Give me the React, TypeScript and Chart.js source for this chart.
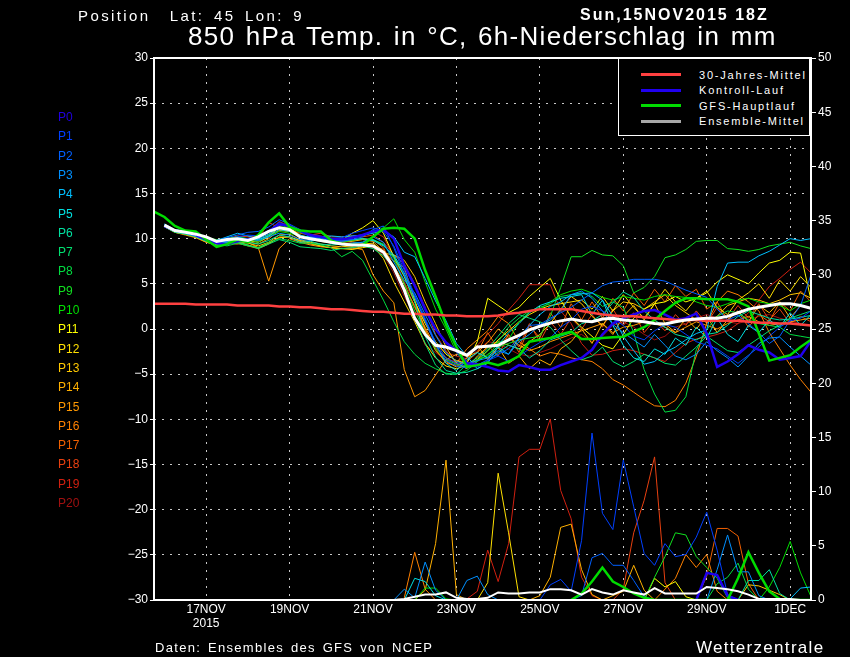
import { useEffect, useRef } from 'react';
import { Chart, registerables } from 'chart.js';

Chart.register(...registerables);

// forecast steps are 6 hours apart, step 0 is 15NOV 18Z
const steps = Array.from({ length: 64 }, (_, i) => i);
const dayTicks = [5, 13, 21, 29, 37, 45, 53, 61];
const dayLabels = ['17NOV', '19NOV', '21NOV', '23NOV', '25NOV', '27NOV', '29NOV', '1DEC'];
const yearLabel = '2015';

const memberNames = ['P0', 'P1', 'P2', 'P3', 'P4', 'P5', 'P6', 'P7', 'P8', 'P9', 'P10', 'P11', 'P12', 'P13', 'P14', 'P15', 'P16', 'P17', 'P18', 'P19', 'P20'];
const memberColors = ['#2000e0', '#0040ff', '#0060ff', '#0090ff', '#00c0ff', '#00e0e0', '#00e0a0', '#00e070', '#00dc40', '#10e020', '#00e000', '#ffff00', '#ffe000', '#ffc800', '#ffb000', '#ff9800', '#ff8000', '#f06000', '#e84010', '#d02010', '#a01010'];

const climate = [2.8, 2.8, 2.8, 2.8, 2.7, 2.7, 2.7, 2.7, 2.6, 2.6, 2.6, 2.6, 2.5, 2.5, 2.4, 2.4, 2.3, 2.2, 2.2, 2.1, 2.0, 1.9, 1.9, 1.8, 1.7, 1.7, 1.6, 1.6, 1.5, 1.5, 1.4, 1.4, 1.4, 1.5, 1.7, 1.8, 2.0, 2.2, 2.2, 2.2, 2.2, 2.0, 1.8, 1.6, 1.5, 1.4, 1.4, 1.3, 1.2, 1.1, 1.0, 1.0, 1.0, 0.9, 0.9, 0.9, 0.9, 0.8, 0.7, 0.7, 0.6, 0.6, 0.5, 0.4];
const mainRun = [13.0, 12.4, 11.4, 10.9, 10.8, 9.9, 9.1, 9.4, 9.9, 9.6, 10.4, 11.8, 12.8, 11.3, 10.9, 10.8, 10.8, 9.8, 9.4, 9.3, 9.3, 10.2, 11.1, 11.2, 11.1, 10.0, 6.5, 3.6, 0.5, -2.0, -4.2, -4.0, -3.7, -4.0, -3.6, -3.0, -1.4, -1.2, -1.0, -0.6, -0.3, -1.1, -1.1, -1.0, -0.9, -0.85, -0.3, 0.2, 1.0, 2.0, 2.9, 3.4, 3.4, 3.3, 3.3, 3.3, 3.0, 2.5, -0.5, -3.5, -3.2, -2.9, -2.0, -1.2];
const ensembleMean = [null, 11.5, 10.9, 10.7, 10.5, 10.2, 9.7, 9.9, 10.0, 9.8, 10.2, 10.8, 11.2, 11.0, 10.2, 10.0, 9.8, 9.6, 9.4, 9.3, 9.3, 9.2, 8.5, 6.8, 4.3, 1.2, -0.6, -1.8, -2.0, -2.4, -2.9, -2.0, -1.9, -1.8, -1.2, -0.7, -0.1, 0.3, 0.65, 0.9, 1.1, 0.9, 0.8, 1.1, 1.2, 1.0, 0.9, 0.8, 0.6, 0.55, 0.8, 1.0, 1.1, 1.2, 1.2, 1.4, 1.8, 2.2, 2.4, 2.6, 2.8, 2.8, 2.6, 2.3];

// 850 hPa temperature of each member
const tempP0 = [null, 11.4, 10.9, 10.7, 10.4, 9.9, 9.5, 9.4, 9.7, 9.9, 10.2, 10.8, 11.6, 11.4, 10.9, 10.4, 10.2, 10.0, 9.9, 10.1, 10.4, 10.8, 11.0, 10.0, 7.0, 4.8, 2.2, 0.0, -1.5, -2.4, -3.8, -3.9, -4.2, -4.6, -4.7, -4.0, -4.2, -4.5, -4.5, -4.0, -3.6, -3.2, -2.3, -0.6, 0.6, 1.2, 1.6, 2.0, 2.1, 1.6, 1.0, 1.2, 1.7, -0.5, -4.2, -3.6, -2.8, -1.8, -2.3, -2.6, -3.4, -3.2, -3.0, -1.3];
const tempP1 = [null, 11.6, 11.0, 10.7, 10.5, 10.0, 9.7, 9.8, 10.2, 10.4, 10.3, 10.9, 11.8, 11.4, 10.8, 10.2, 10.1, 10.0, 10.1, 10.6, 10.9, 11.2, 10.8, 9.2, 6.5, 3.8, 1.2, -1.5, -3.2, -3.8, -4.1, -4.2, -3.5, -3.0, -3.6, -3.0, -2.2, -1.5, -1.0, 0.2, 1.0, 2.2, 2.5, 2.0, 1.2, 0.4, -0.8, -1.2, -0.2, 0.5, 0.2, -0.6, -1.4, -1.8, -2.2, -3.0, -3.8, -2.9, -2.0, -0.8, 0.2, 0.9, 1.2, 2.0];
const tempP2 = [null, 11.4, 10.9, 10.6, 10.4, 9.9, 9.8, 10.1, 10.4, 10.7, 10.8, 11.3, 12.1, 11.6, 11.0, 10.4, 10.1, 9.9, 9.7, 9.9, 10.2, 11.0, 11.4, 9.0, 6.0, 3.6, 0.9, -1.8, -3.5, -4.1, -4.3, -4.0, -3.4, -2.8, -2.2, -1.0, 0.4, 0.5, 1.2, 1.8, 2.4, 3.2, 4.0, 4.8, 5.2, 5.3, 5.5, 5.5, 5.5, 5.3, 4.8, 4.3, 3.9, 3.5, 2.2, 1.0, 1.5, 0.6, -0.4, -1.6, -0.8, 1.0, 2.6, 6.0];
const tempP3 = [null, 11.5, 10.9, 10.7, 10.3, 9.8, 9.6, 9.7, 10.1, 10.0, 9.8, 10.2, 10.6, 10.4, 9.9, 9.8, 9.8, 9.5, 9.4, 9.5, 9.6, 10.2, 9.6, 7.4, 5.4, 4.0, 1.6, -0.7, -2.6, -3.6, -3.9, -3.5, -3.2, -2.4, -2.8, -1.4, -0.6, 0.4, 1.0, 2.0, 3.8, 4.2, 3.4, 2.0, 0.5, -0.4, -1.2, -2.0, -0.6, -1.8, -3.0, -3.4, -2.8, -1.4, -2.4, -3.2, -4.2, -3.0, -1.6, -1.0, -0.9, -2.0, -3.0, -4.0];
const tempP4 = [null, 11.6, 11.0, 10.8, 10.5, 10.1, 9.8, 10.2, 10.6, 10.3, 10.0, 10.5, 11.2, 10.9, 10.4, 10.1, 10.2, 10.3, 10.2, 10.3, 10.4, 10.6, 10.9, 10.2, 8.5, 8.0, 5.6, 3.1, 0.9, -1.6, -3.0, -4.4, -3.8, -2.0, -2.8, -1.0, 0.4, 1.6, 2.5, 3.0, 3.8, 3.9, 4.0, 3.2, 1.4, -0.8, -2.4, -3.9, -3.6, -2.6, -2.0, -1.2, -0.5, -0.1, 4.7, 7.3, 7.4, 7.4, 8.1, 8.6, 9.3, 10.0, 9.8, 10.0];
const tempP5 = [null, 11.4, 10.8, 10.6, 10.3, 9.9, 9.5, 9.6, 9.8, 10.0, 9.9, 10.3, 11.0, 10.8, 10.2, 10.2, 10.0, 9.8, 9.8, 9.9, 10.0, 9.8, 9.2, 8.2, 6.2, 3.5, 1.0, -1.6, -3.8, -4.6, -3.4, -2.6, -3.2, -1.8, -0.4, 0.6, 1.8, 2.6, 3.0, 3.4, 3.6, 3.8, 1.6, 3.2, 0.4, -1.8, -3.2, -3.6, -2.2, -2.8, -1.0, -1.8, 0.2, -1.0, 1.2, -0.6, -1.4, 0.4, -0.4, 1.0, 0.2, 1.8, 0.4, 1.6];
const tempP6 = [null, 11.5, 10.9, 10.7, 10.4, 9.9, 9.5, 9.5, 9.7, 9.6, 9.4, 9.8, 10.4, 10.2, 9.6, 9.7, 9.4, 9.3, 9.4, 9.5, 9.6, 9.9, 9.3, 8.0, 5.9, 3.0, -0.8, -3.1, -4.6, -4.9, -4.8, -4.4, -3.6, -2.6, -1.8, -2.2, -3.2, -2.4, -1.2, -0.8, -0.4, 0.6, 0.9, 1.6, 2.9, 4.1, 3.5, 2.0, 1.0, 0.2, -0.6, -0.9, -1.2, -0.6, -0.4, 0.4, 1.4, 2.0, 1.6, 1.2, 1.0, 1.1, 1.3, 1.5];
const tempP7 = [null, 11.3, 10.7, 10.5, 10.2, 9.7, 9.2, 9.4, 9.6, 9.3, 8.9, 9.4, 9.9, 9.6, 9.1, 9.0, 8.9, 8.7, 8.9, 9.0, 9.2, 8.9, 8.1, 6.8, 4.2, 1.2, -1.6, -4.0, -5.0, -5.0, -3.9, -3.2, -2.2, -0.8, 0.6, 1.6, 1.2, 0.8, 0.2, -1.2, -2.4, -3.4, -3.0, -2.0, -3.6, -4.2, -3.6, -2.8, -3.2, -3.8, -4.0, -3.0, -2.0, -0.8, -1.6, -2.4, -2.6, -1.8, -1.0, -0.2, 0.4, 1.2, 1.6, 2.0];
const tempP8 = [null, 11.4, 10.8, 10.5, 10.3, 9.8, 9.4, 9.2, 9.5, 9.2, 9.0, 9.6, 10.0, 9.8, 9.5, 9.5, 9.3, 9.0, 8.0, 8.6, 7.6, 5.4, 3.2, 0.8, -1.4, -2.8, -3.8, -4.4, -4.9, -5.0, -4.6, -3.6, -2.4, -1.4, 0.2, 1.2, 2.0, 2.4, 2.8, 3.6, 3.8, 4.0, 3.6, 2.5, 3.0, 2.4, -0.4, -4.5, -7.2, -9.2, -9.0, -7.5, -2.3, -0.1, 1.4, 2.0, 1.8, 1.0, 0.6, 0.4, 0.2, -0.6, -0.8, -1.0];
const tempP9 = [null, 11.5, 10.9, 10.7, 10.4, 9.9, 9.6, 9.8, 10.0, 9.9, 9.6, 10.4, 11.5, 11.2, 10.7, 10.4, 10.2, 9.9, 9.6, 9.8, 10.0, 9.9, 9.4, 7.8, 5.0, 2.0, -0.4, -2.2, -3.4, -3.9, -4.2, -3.6, -2.8, -2.0, -1.6, -1.2, -1.0, -0.8, 1.4, 4.6, 8.0, 8.0, 8.7, 8.2, 8.1, 7.0, 4.0, 4.6, 5.8, 7.9, 8.2, 8.8, 9.7, 9.8, 9.8, 8.9, 8.8, 8.6, 8.8, 9.2, 9.4, 9.6, 9.2, 8.9];
const tempP10 = [null, 11.6, 11.0, 10.8, 10.5, 10.1, 9.9, 10.0, 10.2, 10.0, 9.8, 10.3, 10.8, 10.6, 10.3, 10.2, 10.1, 10.0, 10.0, 10.1, 10.3, 10.7, 11.2, 12.2, 9.9, 8.5, 5.2, 2.2, 0.0, -2.6, -4.0, -3.4, -3.0, -1.5, -1.2, 0.8, 1.9, 2.2, 3.0, 3.8, 4.2, 4.4, 4.0, 3.5, 3.2, 3.6, 3.4, 3.2, 3.6, 3.8, 3.6, 3.5, 3.0, 2.6, 2.4, 2.8, 3.2, 3.4, 3.0, 2.8, 2.6, 2.0, 2.8, 3.2];
const tempP11 = [null, 11.4, 10.9, 10.6, 10.3, 9.9, 9.7, 9.7, 10.0, 9.8, 9.6, 10.2, 11.3, 11.2, 10.4, 10.0, 9.8, 9.6, 9.8, 10.6, 11.2, 12.0, 10.6, 8.0, 5.8, 3.0, 0.6, -1.4, -2.8, -3.5, -3.8, -1.4, 3.4, 2.6, 1.8, 2.4, 3.6, 4.6, 5.6, 3.2, 1.3, 0.2, -0.8, -1.8, -2.2, -0.6, 1.2, 2.2, 2.8, 3.0, 3.6, 3.0, 3.4, 4.0, 5.2, 6.0, 5.5, 5.0, 6.2, 7.3, 7.6, 8.5, 8.4, 3.2];
const tempP12 = [null, 11.3, 10.7, 10.5, 10.2, 9.7, 9.3, 9.4, 9.6, 9.3, 9.0, 9.5, 10.1, 10.2, 9.8, 9.5, 9.2, 9.0, 8.9, 8.8, 9.0, 9.2, 7.8, 5.2, 3.0, 0.8, -1.6, -3.2, -4.1, -4.4, -4.0, -3.4, -2.4, -1.2, -0.2, 0.8, 1.6, 2.2, 2.6, 2.8, 3.0, 3.2, 2.2, 3.6, 2.0, 3.8, 2.4, 1.2, 2.8, 4.4, 3.0, 2.0, 3.4, 4.2, 2.4, 1.6, 3.2, 4.0, 5.0, 3.4, 5.4, 4.2, 5.8, 4.6];
const tempP13 = [null, 11.4, 10.8, 10.5, 10.2, 9.7, 9.4, 9.5, 9.7, 9.5, 9.2, 9.6, 10.4, 10.5, 9.9, 9.6, 9.4, 9.2, 9.1, 9.2, 9.4, 9.5, 8.4, 8.2, 7.6, 5.8, 3.0, 0.6, -2.0, -3.8, -4.4, -3.0, -2.0, -1.4, -1.8, -2.2, -1.4, -0.6, 0.6, 2.2, 3.6, 2.8, 1.4, 0.4, 2.0, 3.0, 2.8, 2.2, 3.0, 3.8, 2.6, 1.8, 1.0, 0.8, 1.4, 2.6, 3.0, 3.4, 3.2, 2.8, 3.2, 3.8, 4.0, 3.4];
const tempP14 = [null, 11.5, 10.9, 10.6, 10.3, 9.8, 9.5, 9.6, 9.9, 9.7, 9.4, 10.0, 10.9, 10.8, 10.2, 9.9, 9.7, 9.5, 9.6, 9.7, 9.9, 9.7, 8.6, 7.5, 6.8, 3.2, 0.0, -2.4, -3.6, -4.2, -3.2, -1.8, -3.4, -2.0, -3.8, -3.0, -4.4, -3.4, -4.0, -2.2, -1.4, 0.0, -1.6, 0.6, -0.6, 1.4, 2.6, 1.0, 2.8, 0.6, -0.4, 1.2, 0.0, 1.4, -0.4, 1.0, 2.0, 0.8, 2.6, 1.8, 3.0, 1.2, 2.6, 2.2];
const tempP15 = [null, 11.5, 10.9, 10.5, 10.2, 9.6, 9.4, 9.5, 9.4, 9.6, 9.0, 5.3, 8.9, 10.0, 9.6, 9.3, 9.1, 9.0, 8.9, 9.0, 8.8, 6.0, 4.2, 2.9, -4.5, -7.5, -6.8, -5.1, -3.4, -2.8, -3.0, -2.6, -1.5, 0.0, -0.9, -1.8, -2.4, -2.0, -1.4, -1.0, -0.6, -0.2, 0.2, 0.6, -0.4, 0.2, 0.4, 0.8, 0.6, 0.2, -0.4, 0.2, 0.8, 0.4, 0.0, 0.6, 1.0, 1.4, 0.8, 0.4, 0.6, 0.8, 1.0, 1.2];
const tempP16 = [null, 11.4, 10.7, 10.4, 10.1, 9.6, 9.3, 9.4, 9.5, 9.2, 8.9, 9.4, 10.2, 10.2, 9.7, 9.4, 9.2, 9.0, 8.9, 8.9, 9.1, 9.3, 8.8, 7.0, 5.0, 2.4, 0.2, -2.0, -3.2, -3.8, -2.2, -1.2, -0.2, 1.4, 0.6, -1.4, -2.2, -3.0, -2.6, -2.8, -3.2, -3.4, -3.6, -4.4, -5.6, -6.2, -7.0, -7.8, -8.5, -8.6, -7.9, -6.0, -3.0, 0.6, 3.0, 4.2, 3.8, 3.0, 2.0, -0.4, -2.2, -4.0, -5.6, -7.0];
const tempP17 = [null, 11.4, 10.8, 10.5, 10.2, 9.7, 9.5, 9.7, 9.9, 9.9, 9.8, 10.4, 11.2, 10.8, 10.2, 10.0, 9.9, 9.7, 9.7, 9.8, 10.0, 9.9, 9.0, 6.8, 4.6, 2.6, -0.2, -2.2, -3.8, -4.0, -3.6, -2.6, -0.4, -2.2, -0.6, -2.6, 0.4, -1.0, 1.8, 0.2, 2.8, 1.0, 3.0, 1.2, 3.4, 2.0, 4.0, 2.6, 4.4, 3.0, 4.8, 3.6, 4.4, 2.2, 3.0, 1.0, 2.0, 0.2, 1.6, 0.8, 3.0, 2.0, 4.2, 3.0];
const tempP18 = [null, 11.6, 11.0, 10.7, 10.4, 10.0, 9.7, 9.9, 10.3, 10.2, 10.0, 11.8, 11.2, 11.0, 10.6, 10.4, 10.6, 10.2, 10.2, 10.3, 10.2, 10.4, 9.6, 8.2, 7.2, 5.0, 2.4, -0.6, -2.4, -3.8, -4.2, -3.4, -1.8, -3.0, -0.6, -2.0, 0.6, -1.4, 0.8, -0.6, 1.2, 0.0, 1.6, 0.2, 2.2, 0.4, 1.8, -0.4, 1.0, -0.2, 1.6, 0.4, 2.0, 0.6, 2.4, 1.0, 2.6, 1.2, 2.8, 1.0, 2.2, 0.6, 1.4, 0.8];
const tempP19 = [null, 11.5, 10.9, 10.6, 10.3, 9.8, 9.6, 9.8, 10.2, 10.3, 10.2, 10.8, 11.9, 11.4, 10.9, 10.5, 10.3, 10.0, 10.0, 10.1, 10.4, 10.8, 10.2, 8.0, 5.2, 3.0, 0.8, -1.6, -2.6, -3.0, -3.3, -1.8, -0.6, 0.6, 2.1, 3.4, 4.9, 4.9, 4.9, 2.0, 0.6, -1.6, -2.9, -2.8, -2.4, -2.2, -2.4, -2.8, -3.2, -3.6, -2.6, -1.6, -1.1, -0.9, -0.6, -0.2, 0.6, 1.8, 3.2, 4.7, 5.6, 6.6, 7.4, 6.2];
const tempP20 = [null, 11.4, 10.8, 10.6, 10.3, 9.8, 9.5, 9.6, 9.9, 9.8, 9.7, 10.2, 11.0, 10.8, 10.4, 10.1, 9.8, 9.5, 9.4, 9.6, 9.5, 9.0, 8.2, 6.2, 3.6, 1.4, -1.8, -2.6, -3.4, -3.6, -3.2, -2.4, -1.4, -1.6, -2.2, -2.8, -3.0, -2.6, -2.2, -1.6, -1.0, -0.6, -1.4, -0.8, 0.4, 0.8, 0.2, -0.6, -1.2, -0.8, 0.2, 0.6, 1.2, 1.6, 1.2, 0.8, 0.6, 1.0, 1.4, 1.6, 1.2, 0.9, 0.6, 0.4];
const memberTemps = [tempP0, tempP1, tempP2, tempP3, tempP4, tempP5, tempP6, tempP7, tempP8, tempP9, tempP10, tempP11, tempP12, tempP13, tempP14, tempP15, tempP16, tempP17, tempP18, tempP19, tempP20];

// 6h precipitation, [step, mm], dry steps left out
const rainP0: number[][] = [[52, 0], [53, 2.5], [54, 2.3], [55, 0.4], [56, 0]];
const rainP1: number[][] = [[37, 0], [38, 1.4], [39, 1.9], [40, 0.8], [41, 5.5], [42, 15.4], [43, 8.0], [44, 6.5], [45, 12.9], [46, 8.6], [47, 4.3], [48, 3.2], [49, 5.2], [50, 4.0], [51, 4.2], [52, 5.8], [53, 8.1], [54, 4.6], [55, 0.5], [56, 0]];
const rainP2: number[][] = [[40, 0], [41, 0.4], [42, 3.9], [43, 4.3], [44, 3.2], [45, 3.2], [46, 1.8], [47, 0.3], [48, 0]];
const rainP3: number[][] = [[23, 0], [24, 1.0], [25, 0.2], [26, 3.5], [27, 0.9], [28, 0], [29, 0], [30, 1.8], [31, 2.2], [32, 0.5], [33, 0], [53, 0], [54, 2.8], [55, 6.0], [56, 2.6], [57, 2.6], [58, 0.4], [59, 0]];
const rainP4: number[][] = [[60, 0], [61, 0.1], [62, 1.1], [63, 1.2]];
const rainP5: number[][] = [[24, 0], [25, 2.0], [26, 1.7], [27, 0.4], [28, 0]];
const rainP6: number[][] = [[56, 0], [57, 1.8], [58, 1.8], [59, 2.8], [60, 0.6], [61, 0]];
const rainP8: number[][] = [[53, 0], [54, 1.5], [55, 2.1], [56, 3.4], [57, 1.0], [58, 0]];
const rainP9: number[][] = [[47, 0], [48, 2.1], [49, 4.0], [50, 6.2], [51, 6.0], [52, 4.0], [53, 3.0], [54, 2.0], [55, 0.2], [56, 0]];
const rainP10: number[][] = [[25, 0], [26, 1.1], [27, 1.1], [28, 0.1], [29, 0], [58, 0], [59, 1.2], [60, 3.0], [61, 5.4], [62, 2.5], [63, 0.3]];
const rainP11: number[][] = [[47, 0], [48, 2.0], [49, 1.2], [50, 1.7], [51, 0.3], [52, 0]];
const rainP12: number[][] = [[31, 0], [32, 1.6], [33, 11.7], [34, 6.2], [35, 0.3], [36, 0]];
const rainP13: number[][] = [[56, 0], [57, 1.4], [58, 1.3], [59, 0.9], [60, 0.5], [61, 0]];
const rainP14: number[][] = [[25, 0], [26, 0.9], [27, 5.2], [28, 12.9], [29, 0.5], [30, 0], [36, 0], [37, 0.4], [38, 2.1], [39, 6.7], [40, 7.0], [41, 2.8], [42, 0.5], [43, 0], [44, 0.4], [45, 0.8], [46, 3.2], [47, 0.9], [48, 0]];
const rainP16: number[][] = [[24, 0.2], [25, 4.4], [26, 1.0], [27, 0], [48, 0], [49, 1.0], [50, 2.0], [51, 4.2], [52, 3.0], [53, 4.2], [54, 0.8], [55, 0]];
const rainP17: number[][] = [[52, 0], [53, 2.2], [54, 6.6], [55, 6.6], [56, 5.9], [57, 1.5], [58, 0]];
const rainP18: number[][] = [[44, 0], [45, 1.0], [46, 6.2], [47, 9.2], [48, 13.2], [49, 1.6], [50, 0]];
const rainP19: number[][] = [[29, 0], [30, 0.1], [31, 0.8], [32, 4.6], [33, 1.7], [34, 5.2], [35, 13.2], [36, 13.9], [37, 13.9], [38, 16.7], [39, 10.1], [40, 7.5], [41, 2.1], [42, 0.4], [43, 0]];
const rainMain: number[][] = [[40, 0], [41, 0.6], [42, 1.7], [43, 3.0], [44, 1.7], [45, 1.2], [46, 0.6], [47, 0.2], [48, 0], [55, 0], [56, 2.0], [57, 4.4], [58, 2.5], [59, 0.8], [60, 0.1], [61, 0], [63, 0]];
const rainMean: number[][] = [[23, 0], [24, 0.1], [25, 0.3], [26, 0.5], [27, 0.5], [28, 0.7], [29, 0.2], [30, 0.1], [31, 0.1], [32, 0.2], [33, 0.7], [34, 0.6], [35, 0.6], [36, 0.7], [37, 0.7], [38, 1.0], [39, 1.0], [40, 0.9], [41, 0.5], [42, 1.0], [43, 0.7], [44, 0.5], [45, 0.9], [46, 0.7], [47, 0.5], [48, 1.1], [49, 0.6], [50, 0.6], [51, 0.6], [52, 0.6], [53, 1.2], [54, 1.1], [55, 1.0], [56, 0.8], [57, 0.5], [58, 0.1], [59, 0.1], [60, 0.1], [61, 0.1], [62, 0], [63, 0]];
const memberRain: [number, number[][]][] = [[1, rainP1], [2, rainP2], [3, rainP3], [4, rainP4], [5, rainP5], [6, rainP6], [8, rainP8], [9, rainP9], [10, rainP10], [11, rainP11], [12, rainP12], [13, rainP13], [14, rainP14], [16, rainP16], [17, rainP17], [18, rainP18], [19, rainP19]];

const legendItems = [
  { label: '30-Jahres-Mittel', color: '#ff4040' },
  { label: 'Kontroll-Lauf', color: '#2000f0' },
  { label: 'GFS-Hauptlauf', color: '#00dc00' },
  { label: 'Ensemble-Mittel', color: '#a8a8a8' },
];

const toPoints = (rows: number[][]) => rows.map(([x, y]) => ({ x, y }));

const frame = {
  id: 'frame',
  afterDatasetsDraw(chart: Chart) {
    const { ctx, chartArea: a } = chart;
    ctx.save();
    ctx.strokeStyle = '#fff';
    ctx.lineWidth = 2;
    ctx.strokeRect(a.left, a.top, a.right - a.left, a.bottom - a.top);
    ctx.restore();
  },
};

const textStyle = (left: number, top: number, size: number, color = '#fff'): React.CSSProperties => ({
  position: 'absolute',
  left,
  top,
  fontSize: size,
  color,
  lineHeight: '1',
  whiteSpace: 'nowrap',
  transform: 'translateY(-50%)',
  fontFamily: '"Liberation Sans", sans-serif',
});

const App = () => {
  const canvasRef = useRef<HTMLCanvasElement | null>(null);

  useEffect(() => {
    document.body.style.margin = '0';
    document.body.style.background = '#000';
    if (!canvasRef.current) return;

    const thin = (label: string, data: any, color: string, yAxisID = 'y') => ({
      label, data, yAxisID, borderColor: color, borderWidth: 1, pointRadius: 0, tension: 0, order: 6,
    });
    const thick = (label: string, data: any, color: string, order: number, yAxisID = 'y', width = 2.5) => ({
      label, data, yAxisID, borderColor: color, borderWidth: width, pointRadius: 0, tension: 0, order,
    });

    const datasets: any[] = [];
    memberTemps.forEach((temps, m) => {
      if (m > 0) datasets.push(thin(memberNames[m], temps, memberColors[m]));
    });
    memberRain.forEach(([m, rows]) => {
      datasets.push(thin(memberNames[m] + ' rain', toPoints(rows), memberColors[m], 'y1'));
    });
    datasets.push(thick('Kontroll-Lauf', tempP0, '#2000f0', 5));
    datasets.push(thick('Kontroll-Lauf rain', toPoints(rainP0), '#2000f0', 5, 'y1'));
    datasets.push(thick('GFS-Hauptlauf', mainRun, '#00dc00', 4));
    datasets.push(thick('GFS-Hauptlauf rain', toPoints(rainMain), '#00dc00', 4, 'y1'));
    datasets.push(thick('30-Jahres-Mittel', climate, '#ff4040', 3));
    datasets.push(thick('Ensemble-Mittel', ensembleMean, '#ffffff', 2, 'y', 3));
    datasets.push(thick('Ensemble-Mittel rain', toPoints(rainMean), '#ffffff', 2, 'y1', 2));

    const tickFont = { family: '"Liberation Sans", sans-serif', size: 12 };

    const chart = new Chart(canvasRef.current, {
      type: 'line',
      data: { labels: steps, datasets },
      plugins: [frame],
      options: {
        animation: false,
        responsive: false,
        spanGaps: false,
        layout: { padding: { top: 58, left: 0, right: 0, bottom: 0 } },
        plugins: { legend: { display: false }, tooltip: { enabled: false } },
        scales: {
          x: {
            type: 'linear',
            min: 0,
            max: 63,
            afterBuildTicks: (axis: any) => {
              axis.ticks = dayTicks.map((value) => ({ value }));
            },
            afterFit: (axis: any) => {
              axis.height = 57;
            },
            grid: { color: '#c8c8c8', drawTicks: false },
            border: { display: false, dash: [2, 6] },
            ticks: {
              color: '#fff',
              font: tickFont,
              autoSkip: false,
              maxRotation: 0,
              padding: 2,
              callback: (value: any) => {
                const i = dayTicks.indexOf(value);
                return i === 0 ? [dayLabels[i], yearLabel] : dayLabels[i];
              },
            },
          },
          y: {
            min: -30,
            max: 30,
            afterFit: (axis: any) => {
              axis.width = 154;
            },
            grid: { color: '#c8c8c8', tickLength: 4, tickColor: '#fff', tickBorderDash: [] } as any,
            border: { display: false, dash: [2, 6] },
            ticks: {
              color: '#fff',
              font: tickFont,
              stepSize: 5,
              padding: 2,
              callback: (value: any) => String(value).replace('-', '\u2212'),
            },
          },
          y1: {
            position: 'right',
            min: 0,
            max: 50,
            afterFit: (axis: any) => {
              axis.width = 39;
            },
            grid: { drawOnChartArea: false, tickLength: 5, tickColor: '#fff' },
            border: { display: false },
            ticks: { color: '#fff', font: tickFont, stepSize: 5, padding: 2 },
          },
        },
      },
    });

    return () => chart.destroy();
  }, []);

  return (
    <div style={{ position: 'relative', width: 850, height: 657, background: '#000', overflow: 'hidden' }}>
      <canvas ref={canvasRef} width={850} height={657} style={{ display: 'block' }} />
      <div style={{ ...textStyle(78, 15, 15), letterSpacing: 2.4, wordSpacing: 3 }}>Position &nbsp;Lat: 45 Lon: 9</div>
      <div style={{ ...textStyle(580, 15, 16), letterSpacing: 2, fontWeight: 700 }}>Sun,15NOV2015 18Z</div>
      <div style={{ ...textStyle(188, 36, 26), letterSpacing: 1.3, wordSpacing: 2 }}>850 hPa Temp. in °C, 6h-Niederschlag in mm</div>
      {memberNames.map((name, i) => (
        <div key={name} style={textStyle(58, 117 + i * 19.3, 12, memberColors[i])}>{name}</div>
      ))}
      <div style={{ position: 'absolute', left: 618, top: 58, width: 192, height: 78, background: '#000', border: '1px solid #fff', boxSizing: 'border-box' }} />
      {legendItems.map((item, i) => (
        <div key={item.label}>
          <div style={{ position: 'absolute', left: 641, top: 73 + i * 15.5, width: 40, height: 3, background: item.color }} />
          <div style={{ ...textStyle(699, 74.5 + i * 15.5, 11), letterSpacing: 1.8 }}>{item.label}</div>
        </div>
      ))}
      <div style={{ ...textStyle(155, 647, 13), letterSpacing: 1.3, wordSpacing: 2 }}>Daten: Ensembles des GFS von NCEP</div>
      <div style={{ ...textStyle(696, 647, 17), letterSpacing: 1.3 }}>Wetterzentrale</div>
    </div>
  );
};

export default App;
